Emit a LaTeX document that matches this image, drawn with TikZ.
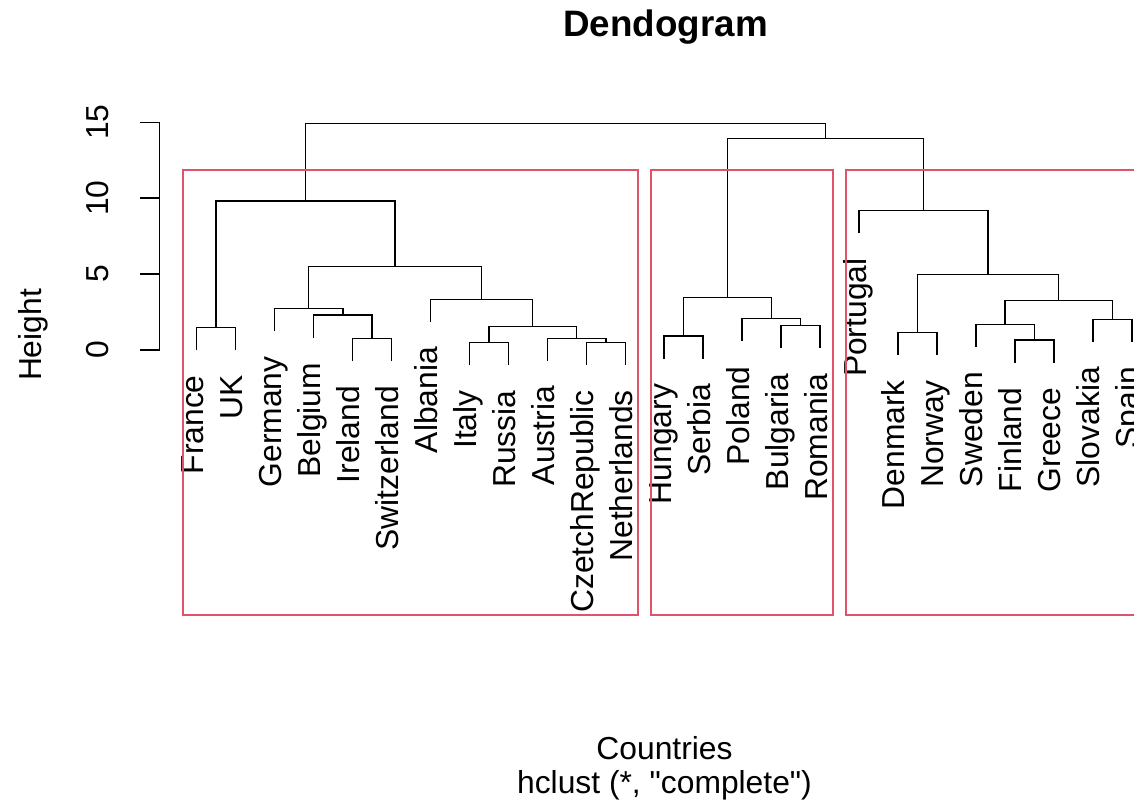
\documentclass[tikz,border=0pt]{standalone}
\usepackage{fontspec}
\setmainfont{Liberation Sans}[Ligatures=TeXOff]
\definecolor{rred}{HTML}{DF536B}
\begin{document}
\begin{tikzpicture}[x=1pt,y=-1pt,
  br/.style={line width=1.5pt, draw=black},
  box/.style={line width=1.9pt, draw=rred},
  lab/.style={rotate=90, anchor=base east, inner sep=0pt, font=\fontsize{31.8}{36}\selectfont},
  txt/.style={inner sep=0pt, anchor=base, font=\fontsize{31.8}{36}\selectfont},
]
\clip (0,0) rectangle (1134,804);
% leaf ends
\coordinate (France) at (196.7,350.1);
\coordinate (UK) at (235.66,350.1);
\coordinate (Germany) at (274.62,331.3);
\coordinate (Belgium) at (313.58,337.6);
\coordinate (Ireland) at (352.54,360.9);
\coordinate (Switzerland) at (391.5,360.9);
\coordinate (Albania) at (430.46,321.9);
\coordinate (Italy) at (469.42,365.3);
\coordinate (Russia) at (508.38,365.3);
\coordinate (Austria) at (547.34,360.9);
\coordinate (CzetchRepublic) at (586.3,364.9);
\coordinate (Netherlands) at (625.26,364.9);
\coordinate (Hungary) at (664.22,358.6);
\coordinate (Serbia) at (703.18,358.6);
\coordinate (Poland) at (742.14,341.3);
\coordinate (Bulgaria) at (781.1,348.3);
\coordinate (Romania) at (820.06,348.3);
\coordinate (Portugal) at (859.02,233.3);
\coordinate (Denmark) at (897.98,354.9);
\coordinate (Norway) at (936.94,354.9);
\coordinate (Sweden) at (975.9,346.9);
\coordinate (Finland) at (1014.86,362.6);
\coordinate (Greece) at (1053.82,362.6);
\coordinate (Slovakia) at (1092.78,341.9);
\coordinate (Spain) at (1131.74,341.9);
% merges
\coordinate (m1) at (216.18,327.5);
\coordinate (m2) at (372.02,338.3);
\coordinate (m3) at (342.8,315);
\coordinate (m4) at (308.71,308.7);
\coordinate (m5) at (488.9,342.7);
\coordinate (m6) at (605.78,342.3);
\coordinate (m7) at (576.56,338.3);
\coordinate (m8) at (532.73,326.7);
\coordinate (m9) at (481.6,299.3);
\coordinate (m10) at (395.15,266.7);
\coordinate (m11) at (305.67,201);
\coordinate (m12) at (683.7,336);
\coordinate (m13) at (800.58,325.7);
\coordinate (m14) at (771.36,318.7);
\coordinate (m15) at (727.53,297.7);
\coordinate (m16) at (917.46,332.3);
\coordinate (m17) at (1034.34,340);
\coordinate (m18) at (1005.12,324.3);
\coordinate (m19) at (1112.26,319.3);
\coordinate (m20) at (1058.69,300.3);
\coordinate (m21) at (988.08,274.3);
\coordinate (m22) at (923.55,210.7);
\coordinate (m23) at (825.54,138.3);
\coordinate (m24) at (565.6,123.3);
% dendrogram
\draw[br] (France) |- (m1) -| (UK);
\draw[br] (Ireland) |- (m2) -| (Switzerland);
\draw[br] (Belgium) |- (m3) -| (m2);
\draw[br] (Germany) |- (m4) -| (m3);
\draw[br] (Italy) |- (m5) -| (Russia);
\draw[br] (CzetchRepublic) |- (m6) -| (Netherlands);
\draw[br] (Austria) |- (m7) -| (m6);
\draw[br] (m5) |- (m8) -| (m7);
\draw[br] (Albania) |- (m9) -| (m8);
\draw[br] (m4) |- (m10) -| (m9);
\draw[br] (m1) |- (m11) -| (m10);
\draw[br] (Hungary) |- (m12) -| (Serbia);
\draw[br] (Bulgaria) |- (m13) -| (Romania);
\draw[br] (Poland) |- (m14) -| (m13);
\draw[br] (m12) |- (m15) -| (m14);
\draw[br] (Denmark) |- (m16) -| (Norway);
\draw[br] (Finland) |- (m17) -| (Greece);
\draw[br] (Sweden) |- (m18) -| (m17);
\draw[br] (Slovakia) |- (m19) -| (Spain);
\draw[br] (m18) |- (m20) -| (m19);
\draw[br] (m16) |- (m21) -| (m20);
\draw[br] (Portugal) |- (m22) -| (m21);
\draw[br] (m15) |- (m23) -| (m22);
\draw[br] (m11) |- (m24) -| (m23);
% labels
\foreach \n in {France,UK,Germany,Belgium,Ireland,Switzerland,Albania,Italy,Russia,Austria,CzetchRepublic,Netherlands,Hungary,Serbia,Poland,Bulgaria,Romania,Portugal,Denmark,Norway,Sweden,Finland,Greece,Slovakia,Spain}
  \node[lab] (t\n) at ([xshift=7pt,yshift=-25pt]\n) {\n};
% axis
\coordinate (a0) at (159.7,350);
\coordinate (a5) at (159.7,274.1);
\coordinate (a10) at (159.7,198.2);
\coordinate (a15) at (159.7,122.3);
\draw[br] (a0) -- (a15);
\foreach \v in {0,5,10,15}{
  \coordinate (e\v) at ([xshift=-19.7pt]a\v);
  \draw[br] (a\v) -- (e\v);
  \node[txt, rotate=90] (k\v) at ([xshift=-51.2pt]a\v) {\v};
}
\node[txt, rotate=90] (ylab) at (41,335) {Height};
\node[txt, font=\fontsize{36.8}{40}\selectfont\bfseries] (title) at (665.5,36) {Dendogram};
\node[txt] (xlab) at (664.5,759.3) {Countries};
\node[txt] (sub) at (664.5,793.5) {hclust (*, "complete")};
% cluster boxes
\draw[box] (183.3,170.3) rectangle (638,615);
\draw[box] (651,170.3) rectangle (833,615);
\draw[box] (846,170.3) rectangle (1160,615);
\end{tikzpicture}
\end{document}
